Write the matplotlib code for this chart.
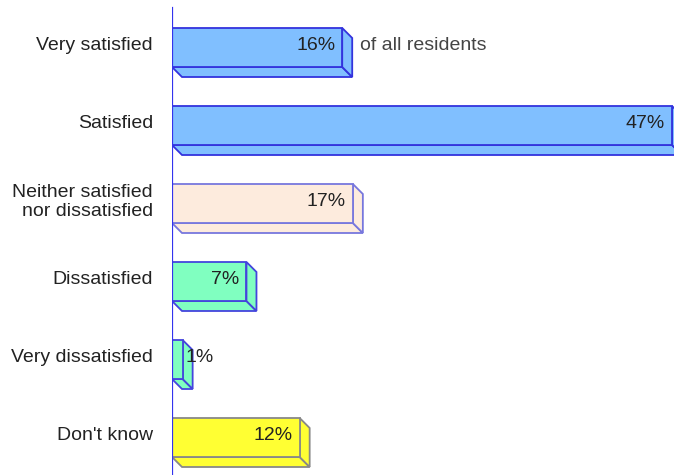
import matplotlib
matplotlib.use("Agg")
import matplotlib.pyplot as plt
from matplotlib.patches import Rectangle, Polygon

plt.rcParams['font.family'] = ['Liberation Sans', 'DejaVu Sans']

categories = ["Very satisfied", "Satisfied", "Neither satisfied\nnor dissatisfied",
              "Dissatisfied", "Very dissatisfied", "Don't know"]
values = [16, 47, 17, 7, 1, 12]
value_labels = ["16%", "47%", "17%", "7%", "1%", "12%"]
face_colors = ["#80BFFF", "#80BFFF", "#FDEBDD", "#80FFC0", "#80FFC0", "#FFFF33"]
edge_colors = ["#3333DD", "#3333DD", "#7777DD", "#4444DD", "#4444DD", "#888888"]
note = "of all residents"

W, H = 674, 475
fig = plt.figure(figsize=(W / 100, H / 100), dpi=100)
ax = fig.add_axes([172 / W, 0, 1 - 172 / W, 1])

px_per_pct = 500 / 47.0
row_px = 78.0
ax.set_xlim(0, (W - 172) / px_per_pct)
ax.set_ylim((H - 47.5) / row_px, -47.5 / row_px)
ax.axis("off")

bar_h = 39 / row_px
dx = 10 / px_per_pct
dy = 10 / row_px
fs = 14

# value axis line
ax.axvline(0, ymin=0, ymax=(H - 8) / H, color="#3333EE", lw=1.6, zorder=5)

for i, (cat, v, lab, fc, ec) in enumerate(zip(categories, values, value_labels,
                                               face_colors, edge_colors)):
    top = i - bar_h / 2
    bot = i + bar_h / 2
    # bottom face
    ax.add_patch(Polygon([(0, bot), (v, bot), (v + dx, bot + dy), (dx, bot + dy)],
                         closed=True, facecolor=fc, edgecolor=ec, lw=1.3, zorder=2))
    # side face
    ax.add_patch(Polygon([(v, top), (v + dx, top + dy), (v + dx, bot + dy), (v, bot)],
                         closed=True, facecolor=fc, edgecolor=ec, lw=1.3, zorder=2))
    # front face
    ax.add_patch(Rectangle((0, top), v, bar_h, facecolor=fc, edgecolor=ec,
                           lw=1.3, zorder=3))
    ty = i - 0.02
    if v >= 5:
        ax.text(v - 7 / px_per_pct, ty, lab, ha="right", va="center",
                fontsize=fs, color="#222222", zorder=6)
    else:
        ax.text(v + 3 / px_per_pct, ty, lab, ha="left", va="center",
                fontsize=fs, color="#222222", zorder=6)
    ax.text(-19 / px_per_pct, ty, cat, ha="right", va="center", fontsize=fs,
            color="#222222", linespacing=1.15, clip_on=False)

ax.text(values[0] + dx + 8 / px_per_pct, -0.02, note, ha="left", va="center",
        fontsize=fs, color="#444444")

fig.savefig("out.png", dpi=100)
